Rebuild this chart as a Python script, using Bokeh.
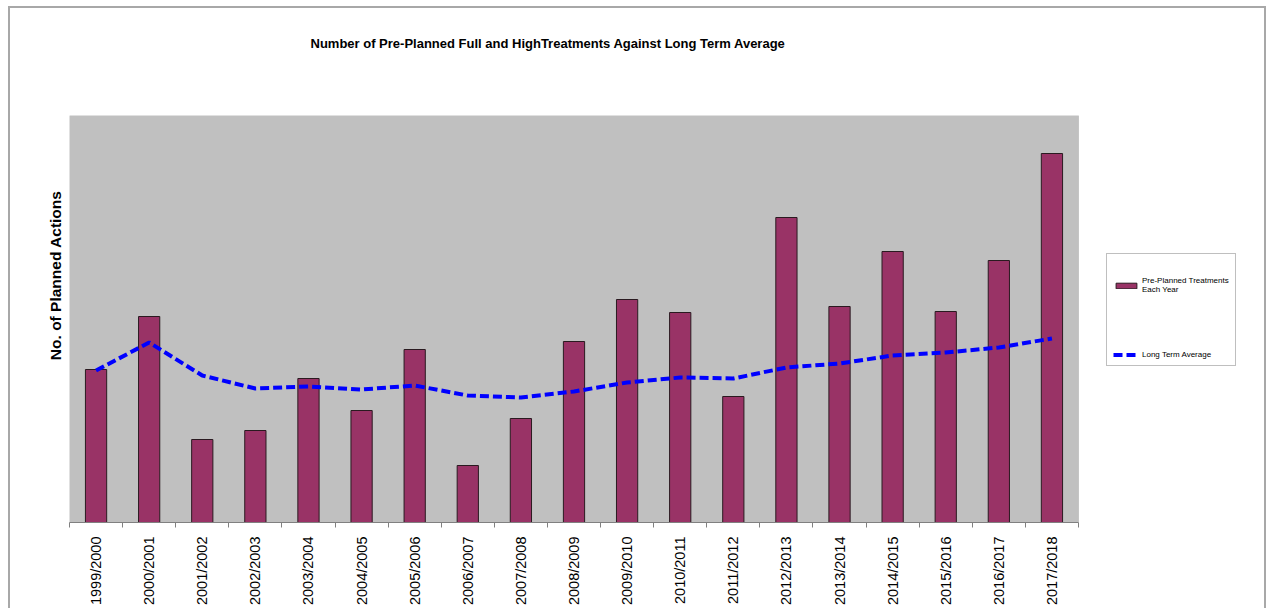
import numpy as np
from math import pi
from bokeh.plotting import figure
from bokeh.models import (Range1d, FixedTicker, CustomJSTickFormatter, Title,
                          Legend, LegendItem, ColumnDataSource, BoxAnnotation)
from bokeh.embed import file_html
from bokeh.resources import INLINE

categories = ["1999/2000", "2000/2001", "2001/2002", "2002/2003", "2003/2004",
              "2004/2005", "2005/2006", "2006/2007", "2007/2008", "2008/2009",
              "2009/2010", "2010/2011", "2011/2012", "2012/2013", "2013/2014",
              "2014/2015", "2015/2016", "2016/2017", "2017/2018"]
treatments = [153, 206, 83, 92, 144, 112, 173, 57, 104, 181,
              223, 210, 126, 305, 216, 271, 211, 262, 369]
long_term_avg = [152, 180, 147, 134, 136, 133, 137, 127, 125, 131,
                 140, 145, 144, 155, 159, 167, 170, 175, 184]

n = len(categories)
xc = np.arange(n) + 0.5
src = ColumnDataSource(dict(x=xc, t=treatments, a=long_term_avg))

W, H = 1258, 602
ML, MR, MT, MB = 59, 14, 107, 88
frame_w = W - ML - MR
plot_w = 1009  # width of the grey plot area in px
y_top = 407

p = figure(width=W, height=H, output_backend="svg", toolbar_location=None,
           x_range=Range1d(0, n * frame_w / plot_w), y_range=Range1d(0, y_top),
           min_border_left=ML, min_border_right=MR, min_border_top=MT,
           min_border_bottom=MB, title=None)
p.styles = {"border-top": "2px solid #a8a8a8", "border-left": "2px solid #a8a8a8",
            "border-right": "2px solid #a8a8a8", "margin-left": "8px",
            "margin-top": "6px"}
p.background_fill_color = "white"
p.border_fill_color = "white"
p.outline_line_color = None
p.xgrid.visible = False
p.ygrid.visible = False
p.yaxis.visible = False

p.add_layout(BoxAnnotation(left=0, right=n, bottom=0, top=y_top, level="underlay",
                           fill_color="#c0c0c0", fill_alpha=1,
                           line_color="#8c8c8c", line_width=1))

bars = p.vbar(x="x", top="t", width=0.4, bottom=0, source=src,
              fill_color="#993366", line_color="#2a1a20", line_width=1)
line = p.line(x="x", y="a", source=src, line_color="#0000ff", line_width=4,
              line_dash="9 4")

xa = p.xaxis[0]
xa.bounds = (0, n)
xa.ticker = FixedTicker(ticks=list(xc), minor_ticks=list(range(n + 1)))
xa.formatter = CustomJSTickFormatter(args=dict(labels=categories),
                                     code="return labels[Math.floor(tick)] || '';")
xa.major_label_orientation = pi / 2
xa.major_label_text_font = "Liberation Sans"
xa.major_label_text_font_size = "14.5px"
xa.major_label_text_color = "black"
xa.major_label_standoff = 9
xa.major_tick_out = 0
xa.major_tick_in = 0
xa.minor_tick_out = 5
xa.minor_tick_in = 0
xa.minor_tick_line_color = "#808080"
xa.axis_line_color = "#808080"

spacer = Title(text=" ", text_font_size="1px", standoff=62)
p.add_layout(spacer, "above")
main_title = Title(text="Number of Pre-Planned Full and HighTreatments Against Long Term Average",
                   align="left", offset=241, standoff=0,
                   text_font="Liberation Sans", text_font_size="13px",
                   text_font_style="bold", text_color="black")
p.add_layout(main_title, "above")

ylab = Title(text="No. of Planned Actions", align="right", offset=75, standoff=12,
             text_font="Liberation Sans", text_font_size="15.5px",
             text_font_style="bold", text_color="black")
p.add_layout(ylab, "left")

legend = Legend(items=[LegendItem(label="Pre-Planned Treatments\nEach Year", renderers=[bars]),
                       LegendItem(label="Long Term Average", renderers=[line])],
                location=(1037, 156))
legend.title = " "
legend.title_text_font_size = "8px"
legend.title_standoff = 7
legend.border_line_color = "#808080"
legend.border_line_width = 1
legend.background_fill_color = "white"
legend.background_fill_alpha = 1
legend.label_text_font = "Liberation Sans"
legend.label_text_font_size = "8px"
legend.label_text_color = "black"
legend.glyph_width = 26
legend.glyph_height = 7
legend.label_standoff = 3
legend.padding = 6
legend.spacing = 56
legend.margin = 0
p.add_layout(legend, "center")

open("out.html", "w").write(file_html(p, INLINE))
